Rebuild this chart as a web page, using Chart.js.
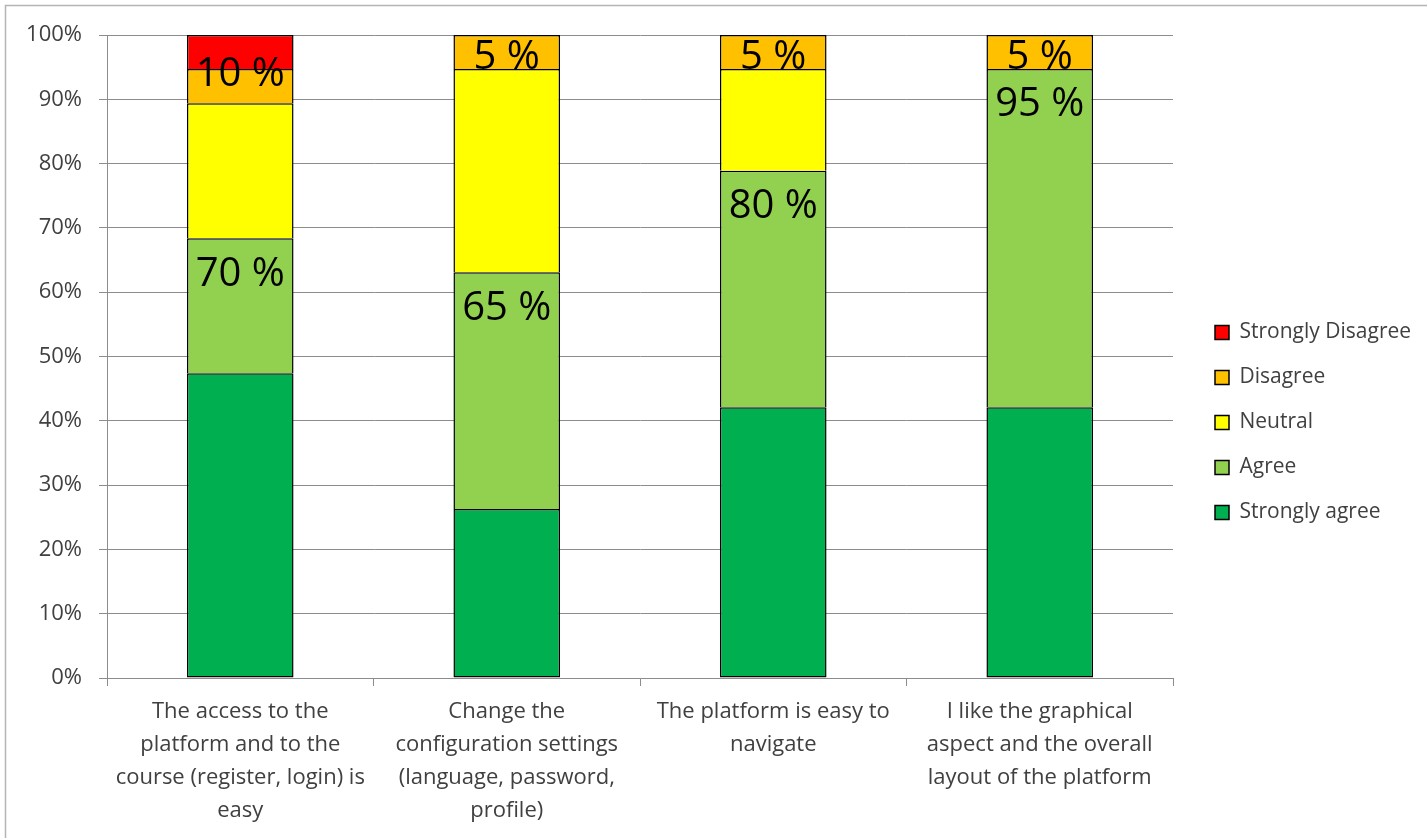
<!DOCTYPE html>
<html lang="en">
  <head>
    <meta charset="UTF-8" />
    <title>Platform survey</title>
    <style>
      body {
        margin: 0;
        background: #ffffff;
      }
      .chart-box {
        width: 1427px;
        height: 838px;
      }
    </style>
  </head>
  <body>
    <div class="chart-box"><canvas id="mychart"></canvas></div>

    <script src="https://cdn.jsdelivr.net/npm/chart.js@4.4.1/dist/chart.umd.min.js"></script>
    <script>
      // data (percent of answers)
      const questions = [
        ["The access to the", "platform and to the", "course (register, login) is", "easy"],
        ["Change the", "configuration settings", "(language, password,", "profile)"],
        ["The platform is easy to", "navigate"],
        ["I like the graphical", "aspect and the overall", "layout of the platform"],
      ];
      const stronglyAgree = [47.4, 26.3, 42.1, 42.1];
      const agree = [21.0, 36.8, 36.8, 52.6];
      const neutral = [21.0, 31.6, 15.8, 0];
      const disagree = [5.3, 5.3, 5.3, 5.3];
      const stronglyDisagree = [5.3, 0, 0, 0];

      // text written on the bars
      const negativeNote = ["10 %", "5 %", "5 %", "5 %"];
      const positiveNote = ["70 %", "65 %", "80 %", "95 %"];

      const yTicks = [0, 10, 20, 30, 40, 50, 60, 70, 80, 90, 100];

      Chart.defaults.font.family = "'Open Sans', sans-serif";
      Chart.defaults.color = "#404040";

      // light frame line on top and left
      const framePlugin = {
        id: "frame",
        beforeDraw(chart) {
          const ctx = chart.ctx;
          ctx.save();
          ctx.strokeStyle = "#b4b4b4";
          ctx.lineWidth = 1.5;
          ctx.beginPath();
          ctx.moveTo(5.5, chart.height);
          ctx.lineTo(5.5, 5.5);
          ctx.lineTo(chart.width, 5.5);
          ctx.stroke();
          ctx.restore();
        },
      };

      // legend: fixed width, then nudged to match the picture
      const legendPlugin = {
        id: "legendPlace",
        beforeLayout(chart) {
          const lg = chart.legend;
          if (lg && !lg._patched) {
            const fit = lg.fit;
            lg.fit = function () {
              fit.call(this);
              this.width = 254;
            };
            lg._patched = true;
          }
        },
        afterLayout(chart) {
          const lg = chart.legend;
          lg.left += 18;
          lg.right += 18;
          lg.top -= 14;
          lg.bottom -= 14;
        },
      };

      // percentage notes on the bars
      const notePlugin = {
        id: "notes",
        afterDatasetsDraw(chart) {
          const ctx = chart.ctx;
          const y = chart.scales.y;
          const bars = chart.getDatasetMeta(0).data;
          ctx.save();
          ctx.font = "40px 'Open Sans'";
          ctx.fillStyle = "#000000";
          ctx.textAlign = "center";
          ctx.textBaseline = "middle";
          for (let i = 0; i < questions.length; i++) {
            const x = bars[i].x;
            const posTop = stronglyAgree[i] + agree[i];
            const negBottom = posTop + neutral[i];
            const negY = (y.getPixelForValue(100) + y.getPixelForValue(negBottom)) / 2 + 6;
            ctx.fillText(negativeNote[i], x, negY);
            ctx.fillText(positiveNote[i], x, y.getPixelForValue(posTop) + 36);
          }
          ctx.restore();
        },
      };

      const barStyle = {
        borderColor: "#000000",
        borderWidth: 1.5,
        borderSkipped: "start",
        barPercentage: 0.4,
        categoryPercentage: 1,
      };

      new Chart(document.getElementById("mychart"), {
        type: "bar",
        data: {
          labels: questions,
          datasets: [
            { label: "Strongly agree", data: stronglyAgree, backgroundColor: "#00B050", ...barStyle, borderSkipped: false },
            { label: "Agree", data: agree, backgroundColor: "#92D050", ...barStyle },
            { label: "Neutral", data: neutral, backgroundColor: "#FFFF00", ...barStyle },
            { label: "Disagree", data: disagree, backgroundColor: "#FFC000", ...barStyle },
            { label: "Strongly Disagree", data: stronglyDisagree, backgroundColor: "#FF0000", ...barStyle },
          ],
        },
        options: {
          responsive: true,
          maintainAspectRatio: false,
          animation: false,
          layout: {
            padding: { top: 35, left: 0, right: 0, bottom: 0 },
          },
          plugins: {
            legend: {
              position: "right",
              reverse: true,
              labels: {
                boxWidth: 14,
                boxHeight: 14,
                padding: 24,
                color: "#404040",
                font: { size: 21 },
              },
            },
            tooltip: { enabled: false },
          },
          scales: {
            x: {
              stacked: true,
              grid: {
                drawOnChartArea: false,
                drawTicks: true,
                tickLength: 8,
                color: "#8c8c8c",
              },
              border: { color: "#8c8c8c" },
              ticks: {
                padding: 9,
                maxRotation: 0,
                autoSkip: false,
                color: "#404040",
                font: { size: 22, lineHeight: 1.5 },
              },
              afterFit(scale) {
                scale.height = 160;
              },
            },
            y: {
              stacked: true,
              min: 0,
              max: 100,
              afterBuildTicks(scale) {
                scale.ticks = yTicks.map((v) => ({ value: v }));
              },
              grid: {
                color: "#8c8c8c",
                tickLength: 8,
              },
              border: { color: "#8c8c8c" },
              ticks: {
                padding: 17,
                color: "#404040",
                font: { size: 22 },
                callback: (v) => v + "%",
              },
              afterFit(scale) {
                scale.width = 107;
              },
            },
          },
        },
        plugins: [framePlugin, legendPlugin, notePlugin],
      });
    </script>
  </body>
</html>
